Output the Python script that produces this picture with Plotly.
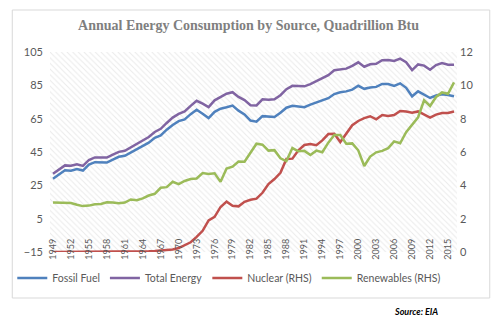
import plotly.graph_objects as go

# US primary energy consumption by source, quadrillion Btu (EIA)
years = list(range(1949, 2017))

fossil_fuel = [
    29.00, 31.63, 34.01, 33.80, 34.83, 33.89, 37.41, 38.89, 38.93, 38.66,
    40.49, 42.14, 42.76, 44.68, 46.54, 48.54, 50.58, 53.51, 54.96, 58.39,
    61.25, 63.52, 64.60, 67.70, 70.32, 67.91, 65.36, 69.10, 70.99, 71.86,
    72.89, 69.83, 67.57, 63.89, 63.15, 66.51, 66.09, 66.03, 68.52, 71.56,
    72.78, 72.33, 71.88, 73.40, 74.84, 76.26, 77.26, 79.78, 80.87, 81.37,
    82.43, 84.73, 82.90, 83.75, 84.08, 85.83, 85.82, 84.69, 86.21, 83.54,
    78.41, 81.42, 79.48, 77.41, 78.90, 79.70, 79.20, 78.50,
]

total_energy = [
    31.98, 34.62, 36.97, 36.75, 37.66, 36.64, 40.21, 41.75, 41.79, 41.65,
    43.47, 45.09, 45.74, 47.83, 49.65, 51.82, 54.02, 57.02, 58.91, 62.42,
    65.62, 67.84, 69.29, 72.70, 75.71, 73.99, 71.97, 75.99, 77.97, 79.99,
    80.90, 78.07, 76.11, 73.10, 72.97, 76.63, 76.39, 76.64, 79.05, 82.71,
    84.71, 84.44, 84.42, 85.74, 87.39, 89.13, 91.08, 94.06, 94.60, 95.02,
    96.65, 98.81, 96.17, 97.65, 97.96, 100.09, 100.19, 99.62, 101.02, 98.91,
    94.13, 97.54, 96.84, 94.39, 97.16, 98.32, 97.41, 97.40,
]

nuclear = [
    0.0, 0.0, 0.0, 0.0, 0.0, 0.0, 0.0, 0.0, 0.0, 0.002,
    0.002, 0.006, 0.020, 0.026, 0.038, 0.040, 0.043, 0.064, 0.088, 0.142,
    0.154, 0.239, 0.413, 0.584, 0.910, 1.272, 1.900, 2.111, 2.702, 3.024,
    2.776, 2.739, 3.008, 3.131, 3.203, 3.553, 4.076, 4.380, 4.754, 5.587,
    5.602, 6.104, 6.422, 6.479, 6.410, 6.694, 7.075, 7.087, 6.597, 7.068,
    7.610, 7.862, 8.029, 8.145, 7.960, 8.223, 8.161, 8.215, 8.459, 8.426,
    8.356, 8.434, 8.269, 8.062, 8.244, 8.338, 8.337, 8.427,
]

renewables = [
    2.974, 2.978, 2.958, 2.940, 2.831, 2.754, 2.784, 2.869, 2.877, 2.984,
    2.976, 2.929, 2.967, 3.154, 3.111, 3.220, 3.390, 3.492, 3.854, 3.892,
    4.214, 4.070, 4.262, 4.382, 4.411, 4.742, 4.687, 4.727, 4.209, 5.005,
    5.123, 5.428, 5.414, 5.980, 6.496, 6.438, 6.084, 6.111, 5.622, 5.457,
    6.235, 6.040, 6.069, 5.821, 6.083, 5.988, 6.558, 7.014, 7.014, 6.493,
    6.516, 6.102, 5.162, 5.729, 5.982, 6.069, 6.230, 6.638, 6.523, 7.192,
    7.617, 8.084, 9.102, 8.762, 9.301, 9.574, 9.494, 10.173,
]

tick_years = list(range(1949, 2016, 3))
tick_labels = [str(y) for y in tick_years]

left_range = [-15, 105]
right_range = [0, 12]
x_range = [years[0] - 0.5, years[-1] + 0.5]

FONT = "Lato"
GREY = "#595959"

fig = go.Figure()

# hatched plot-area background
fig.add_trace(go.Scatter(
    x=[x_range[0], x_range[1], x_range[1], x_range[0], x_range[0]],
    y=[left_range[0], left_range[0], left_range[1], left_range[1], left_range[0]],
    mode="lines", line=dict(width=0), fill="toself",
    fillcolor="rgba(0,0,0,0)",
    fillpattern=dict(shape="\\", fgcolor="#d6d6d6", bgcolor="white",
                     size=4, solidity=0.25),
    showlegend=False, hoverinfo="skip",
))

series = [
    ("Fossil Fuel", fossil_fuel, "#4F81BD", "y"),
    ("Total Energy", total_energy, "#8064A2", "y"),
    ("Nuclear (RHS)", nuclear, "#C0504D", "y2"),
    ("Renewables (RHS)", renewables, "#9BBB59", "y2"),
]
for name, vals, color, axis in series:
    fig.add_trace(go.Scatter(
        x=years, y=vals, name=name, mode="lines", yaxis=axis,
        line=dict(color=color, width=2.5),
    ))

fig.update_layout(
    width=497, height=334,
    margin=dict(l=47, r=40, t=52, b=82),
    paper_bgcolor="white", plot_bgcolor="white",
    font=dict(family=FONT, color=GREY, size=11),
    title=dict(
        text="<b>Annual Energy Consumption by Source, Quadrillion Btu</b>",
        font=dict(family="Liberation Serif", size=14, color="#7f7f7f"),
        x=0.5, xanchor="center", y=1 - 25 / 334, yanchor="middle",
    ),
    xaxis=dict(
        range=x_range, tickvals=tick_years, ticktext=tick_labels,
        tickangle=-90, tickfont=dict(size=9, color=GREY),
        showgrid=False, zeroline=False, showline=False, ticks="",
        anchor="free", position=15 / 120, ticklabelstandoff=9,
    ),
    yaxis=dict(
        range=left_range, tickvals=list(range(-15, 106, 20)),
        showgrid=True, gridcolor="#d9d9d9", gridwidth=1,
        zeroline=False, showline=False, ticks="",
        tickfont=dict(size=11, color=GREY), ticklabelstandoff=6,
    ),
    yaxis2=dict(
        range=right_range, tickvals=list(range(0, 13, 2)),
        overlaying="y", side="right", showgrid=False,
        zeroline=False, showline=False, ticks="",
        tickfont=dict(size=11, color=GREY), ticklabelstandoff=2,
    ),
    legend=dict(
        orientation="h", x=(9 - 47) / 410, xanchor="left",
        y=(252 - 278) / 200, yanchor="middle",
        font=dict(size=10.5, color=GREY), bgcolor="rgba(0,0,0,0)",
        itemwidth=30, tracegroupgap=0,
    ),
    shapes=[dict(
        type="rect", xref="paper", yref="paper",
        x0=(9 - 47) / 410, x1=(490 - 47) / 410,
        y0=(252 - 298) / 200, y1=(252 - 10) / 200,
        line=dict(color="#d9d9d9", width=1), fillcolor="rgba(0,0,0,0)",
        layer="below",
    )],
    annotations=[dict(
        text="<b><i>Source: EIA</i></b>", xref="paper", yref="paper",
        x=(440 - 47) / 410, xanchor="right",
        y=(252 - 311) / 200, yanchor="middle", showarrow=False,
        font=dict(size=9, color="black", family=FONT),
    )],
)

fig.write_html("out.html")
